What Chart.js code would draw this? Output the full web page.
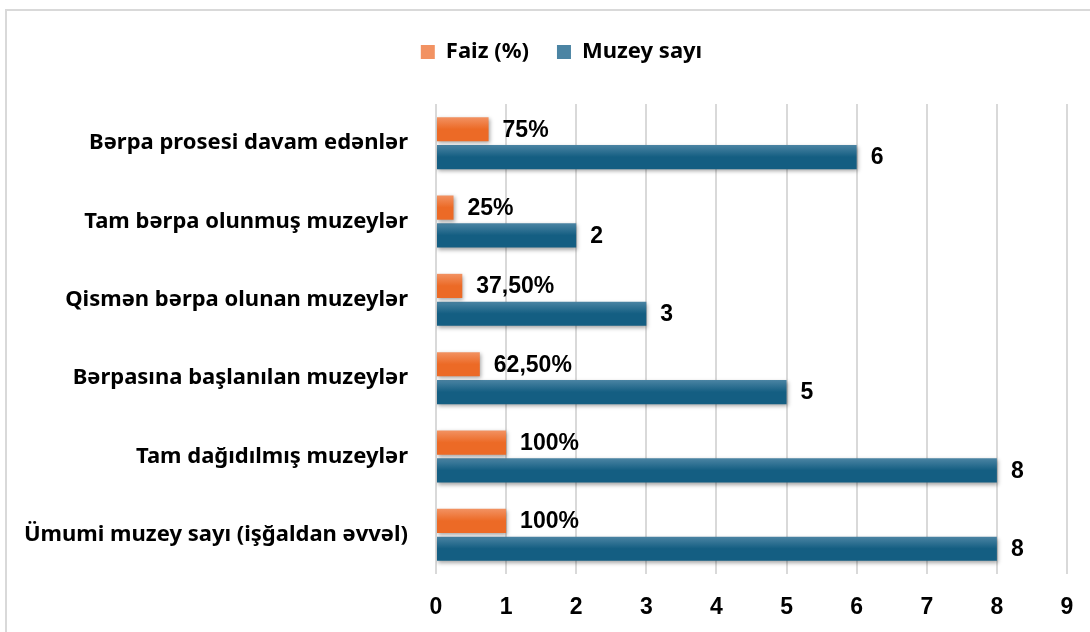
<!DOCTYPE html>
<html>
<head>
<meta charset="utf-8">
<script src="https://cdn.jsdelivr.net/npm/chart.js@4"></script>
<style>
  html, body { margin: 0; background: #fff; overflow: hidden; width: 1090px; height: 632px; }
  #frame { position: absolute; left: 5px; top: 9px; width: 1200px; height: 700px; border: 2px solid #d9d9d9; box-sizing: border-box; }
  #wrap { position: absolute; left: 0; top: 0; width: 1090px; height: 632px; }
</style>
</head>
<body>
<div id="frame"></div>
<div id="wrap"><canvas id="museumBar"></canvas></div>
<script>
// categories, top to bottom
const categories = [
  'Bərpa prosesi davam edənlər',
  'Tam bərpa olunmuş muzeylər',
  'Qismən bərpa olunan muzeylər',
  'Bərpasına başlanılan muzeylər',
  'Tam dağıdılmış muzeylər',
  'Ümumi muzey sayı (işğaldan əvvəl)'
];
const faizValues = [0.75, 0.25, 0.375, 0.625, 1, 1];
const faizLabels = ['75%', '25%', '37,50%', '62,50%', '100%', '100%'];
const muzeyValues = [6, 2, 3, 5, 8, 8];
const xTicks = [0, 1, 2, 3, 4, 5, 6, 7, 8, 9];

const labelFont = '"Noto Sans", Lato, sans-serif';
const numFont = '"Liberation Sans", Arial, sans-serif';
const tickFont = '"Liberation Sans Narrow", "Liberation Sans", Arial, sans-serif';

function barGradient(top, base) {
  return (c) => {
    const el = c.element;
    if (!el || el.height == null || isNaN(el.y)) return base;
    const g = c.chart.ctx.createLinearGradient(0, el.y - el.height / 2, 0, el.y + el.height / 2);
    g.addColorStop(0, top);
    g.addColorStop(0.5, base);
    g.addColorStop(1, base);
    return g;
  };
}

// soft shadow under the bars
const barShadow = {
  id: 'barShadow',
  beforeDatasetDraw(chart) {
    const ctx = chart.ctx;
    ctx.save();
    ctx.shadowColor = 'rgba(0,0,0,0.35)';
    ctx.shadowBlur = 4;
    ctx.shadowOffsetX = 1;
    ctx.shadowOffsetY = 2;
  },
  afterDatasetDraw(chart) {
    chart.ctx.restore();
  }
};

// the legend sits a bit right of the canvas centre
const legendShift = {
  id: 'legendShift',
  afterLayout(chart) {
    if (chart.legend) {
      chart.legend.left += 28;
      chart.legend.right += 28;
    }
  }
};

// value labels at the end of each bar
const valueLabels = {
  id: 'valueLabels',
  afterDatasetsDraw(chart) {
    const ctx = chart.ctx;
    ctx.save();
    ctx.fillStyle = '#000';
    ctx.font = 'bold 23px ' + numFont;
    ctx.textAlign = 'left';
    ctx.textBaseline = 'middle';
    chart.data.datasets.forEach((ds, di) => {
      const meta = chart.getDatasetMeta(di);
      meta.data.forEach((bar, i) => {
        const txt = di === 0 ? faizLabels[i] : String(muzeyValues[i]);
        ctx.fillText(txt, bar.x + 14, bar.y + 1);
      });
    });
    ctx.restore();
  }
};

const chart = new Chart(document.getElementById('museumBar'), {
  type: 'bar',
  data: {
    labels: categories,
    datasets: [
      {
        label: 'Faiz (%)',
        data: faizValues,
        backgroundColor: barGradient('#f29262', '#ec6a26'),
        categoryPercentage: 0.71,
        barPercentage: 0.87
      },
      {
        label: 'Muzey sayı',
        data: muzeyValues,
        backgroundColor: barGradient('#4b84a3', '#145e82'),
        categoryPercentage: 0.71,
        barPercentage: 0.87
      }
    ]
  },
  options: {
    indexAxis: 'y',
    responsive: true,
    maintainAspectRatio: false,
    animation: false,
    layout: { padding: { top: 13, right: 23, left: 0, bottom: 0 } },
    plugins: {
      legend: {
        position: 'top',
        labels: {
          boxWidth: 14,
          boxHeight: 14,
          padding: 28,
          color: '#000',
          font: { family: labelFont, size: 22, weight: 'bold' }
        }
      },
      // empty spacer between legend and plot
      subtitle: {
        display: true,
        text: '',
        weight: 500,
        font: { size: 10 },
        padding: { top: 0, bottom: 19 }
      },
      tooltip: { enabled: false }
    },
    scales: {
      x: {
        min: 0,
        max: 9,
        afterBuildTicks(scale) { scale.ticks = xTicks.map(v => ({ value: v })); },
        afterFit(scale) {
          scale.height = 58;
          scale.paddingLeft = 0;
          scale.paddingRight = 0;
        },
        border: { display: false },
        grid: { color: '#d9d9d9', lineWidth: 2, drawTicks: false },
        ticks: {
          color: '#000',
          padding: 20,
          font: { family: tickFont, size: 23, weight: 'bold' }
        }
      },
      y: {
        afterFit(scale) { scale.width = 436; },
        border: { display: false },
        grid: { display: false, drawTicks: false },
        ticks: {
          color: '#000',
          padding: 28,
          font: { family: labelFont, size: 22, weight: 'bold' }
        }
      }
    }
  },
  plugins: [barShadow, legendShift, valueLabels]
});
chart.update('none');
</script>
</body>
</html>
